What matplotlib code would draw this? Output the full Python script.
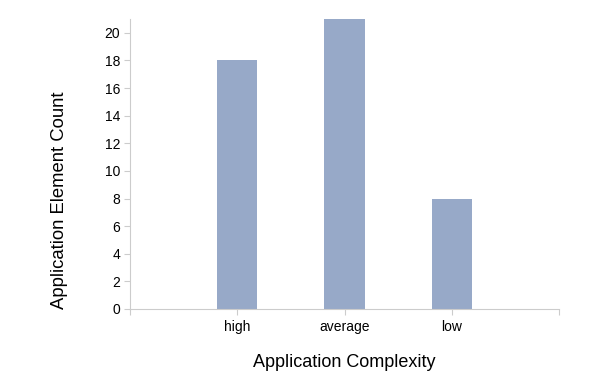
import numpy as np
import matplotlib.pyplot as plt

plt.rcParams['font.family'] = ['Liberation Sans', 'DejaVu Sans']

# datos
categorias = ["high", "average", "low"]
valores = [18, 21, 8]
y_ticks = list(range(0, 21, 2))

fig = plt.figure(figsize=(5.94, 3.90), dpi=100)
ax = fig.add_axes([130 / 594, 81 / 390, 429 / 594, 290 / 390])

pos = np.arange(1, len(categorias) + 1)
ax.bar(pos, valores, width=0.374, color="#97a9c8")

ax.set_xlim(0, len(categorias) + 1)
ax.set_ylim(0, 21)
ax.set_xticks(np.arange(0, len(categorias) + 2))
ax.set_xticklabels([""] + categorias + [""])
ax.set_yticks(y_ticks)

for lado in ["top", "right"]:
    ax.spines[lado].set_visible(False)
for lado in ["left", "bottom"]:
    ax.spines[lado].set_color("#cccccc")
ax.tick_params(axis="both", colors="#cccccc", labelcolor="black", labelsize=10)
ax.tick_params(axis="x", length=4, pad=4)
ax.tick_params(axis="y", length=4, pad=3)

ax.set_xlabel("Application Complexity", fontsize=13, labelpad=14)
ax.set_ylabel("Application Element Count", fontsize=13.3)
ax.yaxis.set_label_coords(-0.145, 0.376)

fig.savefig("out.png", dpi=100)
